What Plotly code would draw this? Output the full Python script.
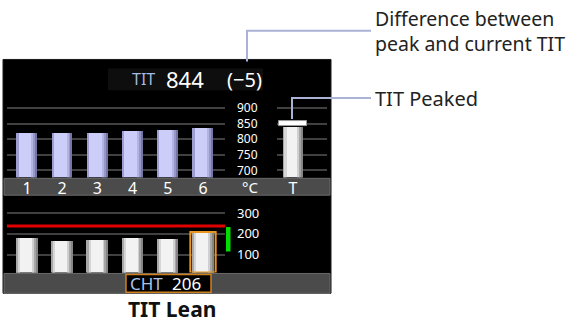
import plotly.graph_objects as go

W, H = 584, 324

cyl_names = ["1", "2", "3", "4", "5", "6"]
egt_vals = [821, 821, 820, 825, 830, 837]
tit_val = 840
tit_peak = 849
tit_now = 844
tit_diff = tit_now - tit_peak
cht_vals = [181, 167, 171, 181, 176, 206]
cht_sel = 206
cht_red = 238
cht_green = [115, 233]
egt_ticks = [700, 750, 800, 850, 900]
cht_ticks = [100, 200, 300]


def px(x):
    return x / W


def py(y):
    return 1 - y / H


fig = go.Figure()

lav = [(0, 1, '#cdcdfa'), (0, 0.08, '#9d9dd0'), (0.72, 0.84, '#b4b4e4'),
       (0.84, 0.93, '#9898c8'), (0.93, 1, '#7676a6')]
wht = [(0, 1, '#f2f2f2'), (0, 0.08, '#a8a8a8'), (0.08, 0.18, '#d6d6d6'),
       (0.75, 0.85, '#d0d0d0'), (0.85, 0.93, '#a6a6a6'), (0.93, 1, '#858585')]


def cyl(x, y, xa, ya, width, shades):
    for a, b, c in shades:
        fig.add_trace(go.Bar(x=x, y=y, xaxis=xa, yaxis=ya,
                             width=width * (b - a), offset=-width / 2 + width * a,
                             marker=dict(color=c, line=dict(width=0)),
                             showlegend=False, hoverinfo='skip'))


cyl(cyl_names, egt_vals, 'x', 'y', 0.57, lav)
cyl(cyl_names, cht_vals, 'x2', 'y2', 0.6, wht)
cyl(['T'], [tit_val], 'x3', 'y3', 0.62, wht)
# peak marker
fig.add_trace(go.Bar(x=['T'], y=[18], base=[tit_peak - 8], xaxis='x3', yaxis='y3',
                     width=0.88, marker=dict(color='#ffffff', line=dict(color='#9a9a9a', width=1)),
                     showlegend=False, hoverinfo='skip'))

grid = dict(showgrid=True, gridcolor='#404040', gridwidth=2, zeroline=False,
            showline=False, ticks='')

xdom = [px(7), px(225)]
xcat = dict(type='category', categoryorder='array', categoryarray=cyl_names,
            range=[-0.568, 5.625], domain=xdom, showgrid=False, zeroline=False,
            showline=False, ticks='', fixedrange=True)

shapes = [
    # panel
    dict(type='rect', xref='paper', yref='paper', x0=px(3), x1=px(331), y0=py(294), y1=py(58),
         fillcolor='#000000', line=dict(color='#1a1a1a', width=1), layer='below'),
    # header box
    dict(type='rect', xref='paper', yref='paper', x0=px(108), x1=px(263), y0=py(89), y1=py(67),
         fillcolor='#0e0e0e', line=dict(width=0), layer='below'),
    # label strips
    dict(type='rect', xref='paper', yref='paper', x0=px(4), x1=px(330), y0=py(195), y1=py(178),
         fillcolor='#4b4b4b', line=dict(color='#6a6a6a', width=1), layer='below'),
    dict(type='rect', xref='paper', yref='paper', x0=px(4), x1=px(330), y0=py(294), y1=py(274),
         fillcolor='#4b4b4b', line=dict(color='#6a6a6a', width=1), layer='below'),
    # CHT box
    dict(type='rect', xref='paper', yref='paper', x0=px(126), x1=px(211), y0=py(293), y1=py(275),
         fillcolor='#000000', line=dict(color='#d0811c', width=1.5)),
    # red line, green band
    dict(type='line', xref='x2 domain', yref='y2', x0=0, x1=1, y0=cht_red, y1=cht_red,
         line=dict(color='#e00000', width=3)),
    dict(type='rect', xref='paper', yref='y2', x0=px(226), x1=px(230.5), y0=cht_green[0], y1=cht_green[1],
         fillcolor='#00dd00', line=dict(width=0)),
    # selected cylinder box
    dict(type='rect', xref='x2', yref='y2', x0=4.64, x1=5.36, y0=14, y1=cht_sel + 3,
         line=dict(color='#e8961e', width=2)),
    # leader lines
    dict(type='path', xref='paper', yref='paper',
         path=f'M {px(371)} {py(29)} L {px(247)} {py(29)} L {px(247)} {py(60)}',
         line=dict(color='#aab3d6', width=2)),
    dict(type='path', xref='paper', yref='paper',
         path=f'M {px(371)} {py(97)} L {px(292)} {py(97)} L {px(292)} {py(118)}',
         line=dict(color='#aab3d6', width=2)),
]

font = "Noto Sans, Open Sans, sans-serif"
ann = [
    dict(x=px(143), y=py(78), text='TIT', font=dict(size=16, color='#a3bbe2')),
    dict(x=px(185), y=py(78), text=str(tit_now), font=dict(size=22, color='#ffffff')),
    dict(x=px(244), y=py(78), text=f'(\u2212{abs(tit_diff)})', font=dict(size=20, color='#ffffff')),
    dict(x=px(250), y=py(187), text='\u00b0C', font=dict(size=15, color='#ffffff')),
    dict(x=px(146), y=py(284), text='CHT', font=dict(size=17, color='#a9c4e8')),
    dict(x=px(186), y=py(284), text=str(cht_sel), font=dict(size=17, color='#ffffff')),
    dict(x=px(172), y=py(310), text='<b>TIT Lean</b>', font=dict(size=21, color='#111111')),
    dict(x=px(373), y=py(29.5), text='Difference between<br>peak and current TIT', xanchor='left',
         align='left', font=dict(size=19.5, color='#222222')),
    dict(x=px(373), y=py(97), text='TIT Peaked', xanchor='left', font=dict(size=20, color='#222222')),
]
for a in ann:
    a.setdefault('xanchor', 'center')
    a.update(xref='paper', yref='paper', yanchor='middle', showarrow=False)

fig.update_layout(
    width=W, height=H, margin=dict(l=0, r=0, t=0, b=0),
    paper_bgcolor='#ffffff', plot_bgcolor='rgba(0,0,0,0)',
    barmode='overlay', bargap=0, showlegend=False,
    font=dict(family=font, color='#ffffff'),
    xaxis=dict(xcat, anchor='y', showticklabels=True, tickfont=dict(size=16, color='#ffffff')),
    yaxis=dict(grid, domain=[py(177), py(100)], range=[678, 922], tickvals=egt_ticks,
               anchor='free', position=px(236), side='right',
               tickfont=dict(size=12, color='#ffffff'), fixedrange=True),
    xaxis2=dict(xcat, anchor='y2', showticklabels=False),
    yaxis2=dict(grid, domain=[py(273), py(205)], range=[14, 338], tickvals=cht_ticks,
                anchor='free', position=px(236), side='right',
                tickfont=dict(size=13, color='#ffffff'), fixedrange=True),
    xaxis3=dict(type='category', domain=[px(277), px(327)], range=[-0.5, 1.0625], anchor='y3',
                showgrid=False, zeroline=False, showline=False, ticks='',
                tickfont=dict(size=16, color='#ffffff'), fixedrange=True),
    yaxis3=dict(grid, domain=[py(177), py(100)], range=[678, 922], tickvals=egt_ticks,
                anchor='x3', showticklabels=False, fixedrange=True),
    shapes=shapes, annotations=ann,
)

fig.write_html("out.html", config={'displayModeBar': False},
               post_script="document.body.style.margin='0';")
